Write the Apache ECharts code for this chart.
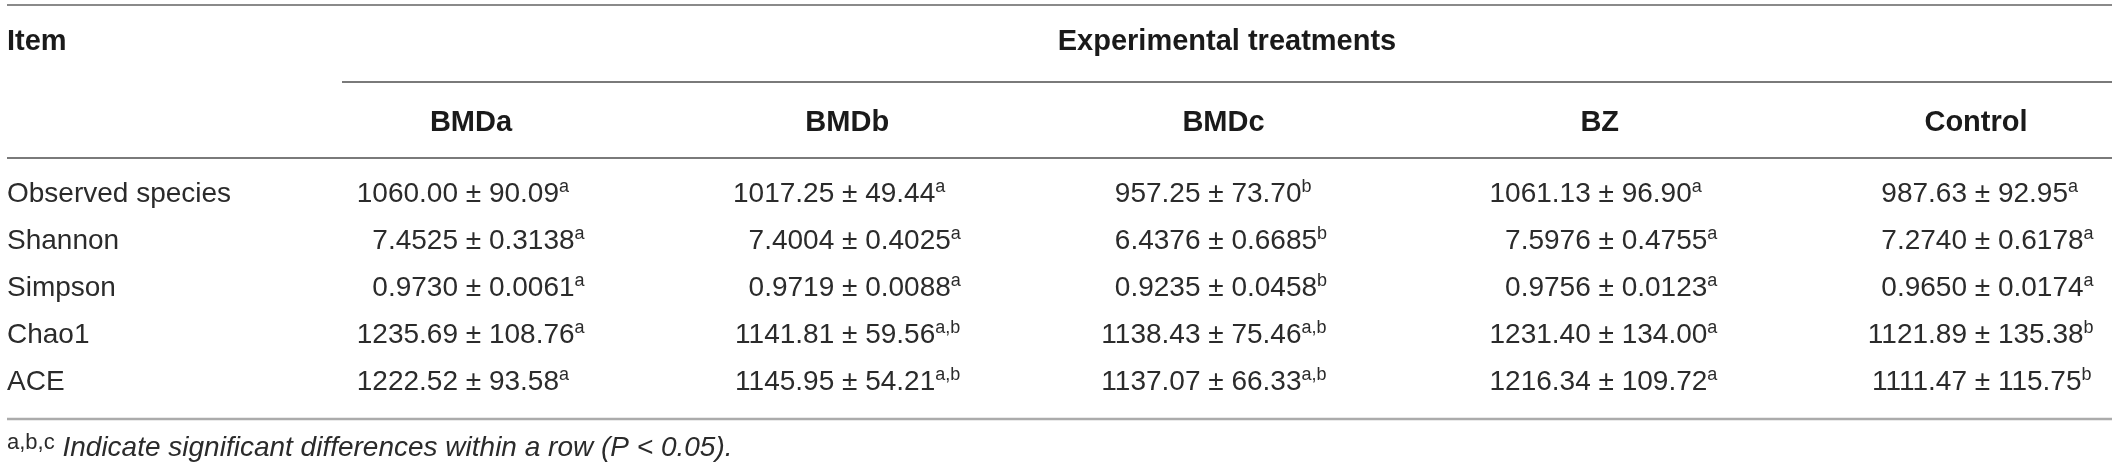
<!DOCTYPE html>
<html>
<head>
<meta charset="utf-8">
<script src="https://cdn.jsdelivr.net/npm/echarts@6/dist/echarts.min.js"></script>
<style>
  html, body { margin: 0; padding: 0; background: #fff; }
  #main { width: 2118px; height: 473px; }
</style>
</head>
<body>
<div id="main"></div>
<script>
// rows and columns of the table
const items = ['Observed species', 'Shannon', 'Simpson', 'Chao1', 'ACE'];
const treatments = ['BMDa', 'BMDb', 'BMDc', 'BZ', 'Control'];
const decimals = [2, 4, 4, 2, 2];

// mean, sd and significance letters per treatment (one entry per item)
const bmdaMean = [1060.00, 7.4525, 0.9730, 1235.69, 1222.52];
const bmdaSd = [90.09, 0.3138, 0.0061, 108.76, 93.58];
const bmdaSig = ['a', 'a', 'a', 'a', 'a'];

const bmdbMean = [1017.25, 7.4004, 0.9719, 1141.81, 1145.95];
const bmdbSd = [49.44, 0.4025, 0.0088, 59.56, 54.21];
const bmdbSig = ['a', 'a', 'a', 'a,b', 'a,b'];

const bmdcMean = [957.25, 6.4376, 0.9235, 1138.43, 1137.07];
const bmdcSd = [73.70, 0.6685, 0.0458, 75.46, 66.33];
const bmdcSig = ['b', 'b', 'b', 'a,b', 'a,b'];

const bzMean = [1061.13, 7.5976, 0.9756, 1231.40, 1216.34];
const bzSd = [96.90, 0.4755, 0.0123, 134.00, 109.72];
const bzSig = ['a', 'a', 'a', 'a', 'a'];

const controlMean = [987.63, 7.2740, 0.9650, 1121.89, 1111.47];
const controlSd = [92.95, 0.6178, 0.0174, 135.38, 115.75];
const controlSig = ['a', 'a', 'a', 'b', 'b'];

const groupHeader = 'Experimental treatments';
const itemHeader = 'Item';
const footnoteMarks = 'a,b,c';
const footnoteText = 'Indicate significant differences within a row (P < 0.05).';

const allMeans = [bmdaMean, bmdbMean, bmdcMean, bzMean, controlMean];
const allSds = [bmdaSd, bmdbSd, bmdcSd, bzSd, controlSd];
const allSigs = [bmdaSig, bmdbSig, bmdcSig, bzSig, controlSig];

const FONT = "'Liberation Sans', Arial, Helvetica, sans-serif";
const TEXT = '#2b2b2b';
const HEAD = '#1a1a1a';
// where the "±" sits relative to the column centre
const pmShift = [-13, -13, -23, -9, -9];

const cells = [];
allMeans.forEach(function (col, c) {
  col.forEach(function (m, r) {
    cells.push({
      value: [c, r],
      mean: m.toFixed(decimals[r]),
      sd: allSds[c][r].toFixed(decimals[r]),
      sig: allSigs[c][r]
    });
  });
});

function renderCell (params, api) {
  const cell = cells[params.dataIndex];
  const pt = api.coord([api.value(0), api.value(1)]);
  const x = pt[0] + pmShift[api.value(0)];
  return {
    type: 'group',
    children: [
      {
        type: 'text',
        x: x, y: pt[1],
        style: {
          text: cell.mean,
          align: 'right', verticalAlign: 'middle',
          fontFamily: FONT, fontSize: 28, lineHeight: 32, fill: TEXT
        }
      },
      {
        type: 'text',
        x: x, y: pt[1],
        style: {
          text: ' \u00b1 ' + cell.sd + '{s|' + cell.sig + '}',
          align: 'left', verticalAlign: 'middle',
          fontFamily: FONT, fontSize: 28, lineHeight: 32, fill: TEXT,
          rich: {
            s: { fontFamily: FONT, fontSize: 18, lineHeight: 18, verticalAlign: 'top', fill: TEXT }
          }
        }
      }
    ]
  };
}

function rule (x1, x2, y, color, w) {
  return { type: 'line', shape: { x1: x1, y1: y, x2: x2, y2: y }, style: { stroke: color, lineWidth: w }, silent: true };
}

const chart = echarts.init(document.getElementById('main'), null, { renderer: 'canvas' });
chart.setOption({
  backgroundColor: '#fff',
  animation: false,
  grid: { left: 471, width: 1505, top: 194, height: 188, outerBoundsMode: 'none', containLabel: false },
  xAxis: {
    type: 'category',
    data: treatments,
    position: 'top',
    boundaryGap: false,
    axisLine: { show: false },
    axisTick: { show: false },
    splitLine: { show: false },
    axisLabel: {
      interval: 0, margin: 71, verticalAlign: 'middle',
      fontFamily: FONT, fontSize: 29, fontWeight: 'bold', color: HEAD
    }
  },
  yAxis: {
    type: 'category',
    data: items,
    inverse: true,
    boundaryGap: false,
    axisLine: { show: false },
    axisTick: { show: false },
    splitLine: { show: false },
    axisLabel: {
      interval: 0, margin: 464, align: 'left',
      fontFamily: FONT, fontSize: 28, color: TEXT
    }
  },
  series: [{
    type: 'custom',
    renderItem: renderCell,
    data: cells,
    encode: { x: 0, y: 1 },
    silent: true
  }],
  graphic: [
    rule(7, 2112, 5, '#8a8a8a', 2),
    rule(342, 2112, 82, '#7a7a7a', 2),
    rule(7, 2112, 158, '#7a7a7a', 2),
    rule(7, 2112, 419, '#ababab', 2.5),
    {
      type: 'text', x: 7, y: 42,
      style: { text: itemHeader, align: 'left', verticalAlign: 'middle', fontFamily: FONT, fontSize: 29, fontWeight: 'bold', fill: HEAD }
    },
    {
      type: 'text', x: 1227, y: 42,
      style: { text: groupHeader, align: 'center', verticalAlign: 'middle', fontFamily: FONT, fontSize: 29, fontWeight: 'bold', fill: HEAD }
    },
    {
      type: 'text', x: 7, y: 448,
      style: {
        text: '{s|' + footnoteMarks + '} {i|' + footnoteText + '}',
        align: 'left', verticalAlign: 'middle',
        fontFamily: FONT, fontSize: 28, lineHeight: 32, fill: TEXT,
        rich: {
          s: { fontFamily: FONT, fontSize: 22, lineHeight: 22, verticalAlign: 'top', fill: TEXT },
          i: { fontFamily: FONT, fontSize: 28, lineHeight: 32, fontStyle: 'italic', fill: TEXT }
        }
      }
    }
  ]
});
</script>
</body>
</html>
